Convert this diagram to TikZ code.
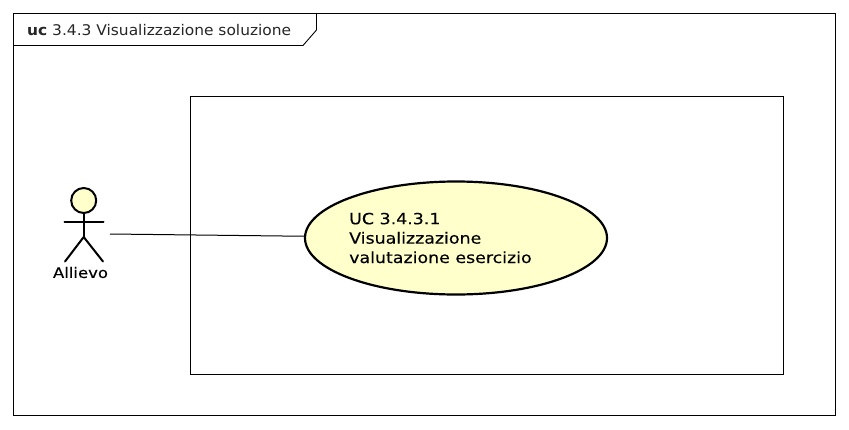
\documentclass[tikz,border=0pt]{standalone}
\usepackage{fontspec}
\setmainfont{DejaVu Sans}
\newfontfamily\ucfont[FakeStretch=1.13,FakeBold=0.25]{DejaVu Sans}
\newfontfamily\titlefont[FakeStretch=1.05]{DejaVu Sans}
\usetikzlibrary{shapes.geometric}
\definecolor{ucfill}{RGB}{255,255,204}
\tikzset{
  frameline/.style={draw=black,line width=0.9pt},
  thick line/.style={draw=black,line width=2pt,line cap=round},
  ucase/.style={ellipse,draw=black,line width=2.2pt,fill=ucfill,minimum width=302pt,minimum height=113pt,inner sep=0pt},
  uclabel/.style={font=\ucfont\fontsize{15.4pt}{19.4pt}\selectfont,align=left,inner sep=0pt,anchor=west,text=black},
  actorlabel/.style={font=\ucfont\fontsize{14.6pt}{17pt}\selectfont,inner sep=0pt,text=black},
  titlelabel/.style={font=\titlefont\fontsize{14.7pt}{17pt}\selectfont,inner sep=0pt,anchor=west,text=black!85}
}
\begin{document}
\begin{tikzpicture}[x=1pt,y=-1pt]
\useasboundingbox[fill=white] (0,0) rectangle (849,429);
\path[frameline] (13.5,13.5) rectangle (835.5,415.5);
\path[frameline] (13.5,45.5) -- (303,45.5) -- (316.5,30) -- (316.5,13.5);
\node[titlelabel] (title) at (27,30.5) {\textbf{uc} 3.4.3 Visualizzazione soluzione};
\node[draw=black,line width=0.9pt,minimum width=593pt,minimum height=278pt,inner sep=0pt,anchor=north west] (system) at (190,96) {};
\node[ucase] (uc) at (456,238) {};
\node[uclabel] (uctext) at (349,238) {UC 3.4.3.1\\Visualizzazione\\valutazione esercizio};
\node[circle,draw=black,line width=2pt,fill=ucfill,minimum size=25pt,inner sep=0pt] (head) at (83.7,200.5) {};
\coordinate (hip) at (83.7,237);
\coordinate (armL) at (64.5,221.5);
\coordinate (armR) at (103.5,221.5);
\coordinate (legL) at (65,261.5);
\coordinate (legR) at (103,261.5);
\path[thick line] (head) ++(0,12.5) -- (hip);
\path[thick line] (armL) -- (armR);
\path[thick line] (legL) -- (hip) -- (legR);
\node[actorlabel] (actor) at (80.5,272.5) {Allievo};
\coordinate (actorport) at (110,234);
\draw[line width=1pt] (actorport) -- (uc);
\end{tikzpicture}
\end{document}
